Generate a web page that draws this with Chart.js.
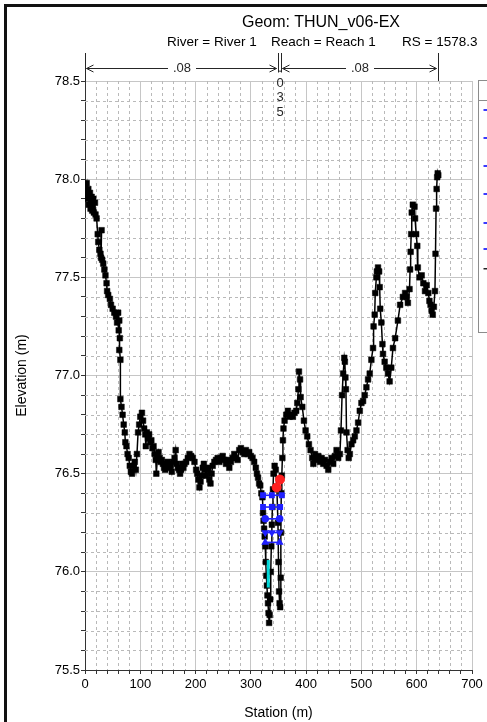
<!DOCTYPE html>
<html>
<head>
<meta charset="utf-8">
<script src="https://cdn.jsdelivr.net/npm/chart.js@4.4.1/dist/chart.umd.min.js"></script>
<style>
  html, body { margin: 0; padding: 0; background: #fff; }
  #wrap { position: relative; width: 487px; height: 722px; overflow: hidden; font-family: "Liberation Sans", Arial, sans-serif; color: #000; }
  #frame { position: absolute; left: 4px; top: 4px; width: 500px; height: 740px; border-left: 3px solid #111; border-top: 3px solid #111; }
  canvas { position: absolute; left: 0; top: 0; }
  .t { position: absolute; white-space: nowrap; line-height: 1; }
  #title { left: 242px; top: 14px; font-size: 16px; }
  .sub { top: 35px; font-size: 13.5px; }
</style>
</head>
<body>
<div id="wrap">
  <canvas id="c" width="487" height="722"></canvas>
  <div id="frame"></div>
  <div class="t" id="title">Geom: THUN_v06-EX</div>
  <div class="t sub" style="left:167px">River = River 1</div>
  <div class="t sub" style="left:271px">Reach = Reach 1</div>
  <div class="t sub" style="left:402px">RS = 1578.3</div>
</div>
<script>
// Ground profile of the cross section (station m, elevation m)
const groundStation = [
  0, 1, 3, 4, 6, 7, 9, 10, 12, 13, 15, 16, 18, 19, 21, 23, 24, 26, 28, 30,
  29, 31, 33, 35, 37, 39, 40, 42, 45, 47, 50, 53, 56, 58, 60, 61, 62, 63, 62, 64,
  64, 66, 68, 70, 72, 73, 75, 77, 79, 81, 83, 85, 88, 90, 92, 94, 96, 98, 100, 103,
  105, 107, 109, 110, 112, 114, 116, 118, 120, 122, 124, 126, 128, 129, 131, 133, 135, 137, 139, 141,
  143, 145, 147, 149, 151, 153, 155, 157, 159, 162, 164, 166, 168, 170, 172, 174, 176, 178, 180, 183,
  186, 189, 192, 195, 198, 201, 203, 205, 207, 209, 211, 213, 215, 217, 219, 221, 223, 225, 227, 229,
  231, 234, 237, 240, 243, 246, 249, 252, 255, 258, 261, 264, 267, 270, 273, 276, 279, 282, 285, 288,
  291, 294, 297, 300, 303, 306, 309, 311, 313, 315, 317, 319, 321, 322, 323, 324, 325, 326, 327, 328,
  329, 330, 331, 332, 333, 334, 335, 336, 337, 338, 339, 340, 341, 343, 345, 347, 349, 350, 351, 352,
  353, 354, 354.5, 355, 356, 357, 358, 359, 361, 364, 367, 370, 373, 376, 379, 382, 384, 386, 387, 389,
  390, 393, 396, 399, 402, 405, 408, 411, 413, 416, 419, 422, 425, 428, 431, 434, 437, 440, 443, 446,
  449, 452, 455, 458, 461, 463, 465, 467, 469, 470, 471, 472, 473, 475, 477, 479, 482, 485, 488, 491,
  494, 497, 500, 503, 506, 509, 512, 515, 518, 521, 522, 524, 525, 527, 528, 530, 532, 533, 534, 536,
  538, 539, 542, 545, 548, 551, 554, 557, 561, 566, 570, 575, 579, 582, 584, 587, 588, 589, 590, 591,
  593, 596, 597, 599, 601, 602, 605, 609, 612, 615, 618, 621, 623, 625, 627, 629, 631, 633, 634, 635,
  636, 637, 638, 639
];
const groundElev = [
  77.92, 77.96, 77.98, 77.90, 77.95, 77.87, 77.93, 77.85, 77.91, 77.84, 77.90, 77.83, 77.88, 77.82, 77.80, 77.72, 77.68, 77.64, 77.62, 77.74,
  77.60, 77.59, 77.57, 77.54, 77.51, 77.47, 77.43, 77.41, 77.39, 77.36, 77.34, 77.32, 77.30, 77.27, 77.32, 77.23, 77.28, 77.19, 77.13, 77.08,
  76.88, 76.84, 76.80, 76.75, 76.71, 76.66, 76.64, 76.60, 76.58, 76.54, 76.51, 76.50, 76.54, 76.56, 76.52, 76.60, 76.71, 76.75, 76.79, 76.81,
  76.77, 76.73, 76.70, 76.64, 76.71, 76.68, 76.70, 76.66, 76.67, 76.63, 76.64, 76.60, 76.57, 76.50, 76.58, 76.61, 76.58, 76.56, 76.57, 76.55,
  76.53, 76.52, 76.55, 76.56, 76.53, 76.55, 76.54, 76.51, 76.56, 76.58, 76.62, 76.55, 76.53, 76.52, 76.50, 76.52, 76.55, 76.53, 76.55, 76.56,
  76.58, 76.60, 76.59, 76.58, 76.56, 76.52, 76.50, 76.47, 76.43, 76.46, 76.49, 76.53, 76.55, 76.52, 76.49, 76.53, 76.52, 76.47, 76.45, 76.50,
  76.54, 76.56, 76.57, 76.58, 76.56, 76.58, 76.59, 76.57, 76.55, 76.57, 76.53, 76.56, 76.58, 76.60, 76.58, 76.57, 76.62, 76.63, 76.61, 76.60,
  76.62, 76.60, 76.61, 76.59, 76.58, 76.56, 76.53, 76.50, 76.48, 76.45, 76.44, 76.40, 76.38, 76.30, 76.26, 76.22, 76.18, 76.13, 76.05, 75.98,
  75.93, 75.88, 75.84, 75.79, 75.74, 75.78, 75.86, 76.00, 76.13, 76.24, 76.33, 76.42, 76.50, 76.54, 76.52, 76.43, 76.25, 76.05, 75.90, 75.84,
  75.82, 75.97, 76.20, 76.40, 76.49, 76.58, 76.67, 76.73, 76.77, 76.80, 76.82, 76.79, 76.80, 76.79, 76.81, 76.82, 76.86, 76.93, 77.02, 76.98,
  76.89, 76.84, 76.77, 76.72, 76.69, 76.65, 76.62, 76.58, 76.55, 76.60, 76.57, 76.59, 76.56, 76.58, 76.55, 76.57, 76.54, 76.52, 76.56, 76.58,
  76.55, 76.59, 76.62, 76.58, 76.60, 76.72, 76.90, 77.01, 77.09, 77.07, 76.99, 76.93, 76.71, 76.62, 76.58, 76.60, 76.65, 76.67, 76.69, 76.72,
  76.76, 76.82, 76.86, 76.87, 76.90, 76.94, 76.98, 77.01, 77.08, 77.14, 77.25, 77.31, 77.42, 77.50, 77.53, 77.55, 77.53, 77.45, 77.34, 77.27,
  77.16, 77.11, 77.07, 77.04, 77.01, 76.97, 77.04, 77.14, 77.19, 77.28, 77.36, 77.40, 77.42, 77.40, 77.37, 77.44, 77.54, 77.63, 77.72, 77.83,
  77.87, 77.86, 77.80, 77.72, 77.66, 77.55, 77.50, 77.51, 77.47, 77.43, 77.46, 77.42, 77.38, 77.36, 77.33, 77.31, 77.35, 77.43, 77.62, 77.85,
  77.95, 78.01, 78.03, 78.02
];

// Water surface levels in the main channel (elevation, and stations where each crosses the channel)
const wsElev = [76.39, 76.33, 76.27, 76.20, 76.15];
const wsStations = [
  [322, 338, 356],
  [322, 338, 353],
  [326, 352],
  [326, 338, 352],
  [326, 352]
];
const wsMarker = ['rect', 'rect', 'circle', 'triangle', 'triangle'];
const wsRotation = [0, 0, 0, 180, 0];

// Bank stations (red) and the short cyan segment near the channel bottom
const bankStation = [346.6, 352.7];
const bankElev = [76.43, 76.47];
const cyanStation = [331.5, 331.5];
const cyanElev = [75.92, 76.06];

// Manning's n zones across the section
const nBreaks = [0, 348.5, 354.5, 639];
const nLabels = ['.08', '.035', '.08'];

// Axis ticks
const xMin = 0, xMax = 700, xMajor = 100, xMinor = 20;
const yMin = 75.5, yMax = 78.5, yMajor = 0.5, yMinor = 0.1;

const datasets = [];
datasets.push({
  label: 'Bank Sta',
  data: bankStation.map((s, i) => ({ x: s, y: bankElev[i] })),
  showLine: false,
  pointStyle: 'circle',
  pointRadius: 4.5,
  pointBackgroundColor: '#ff2020',
  pointBorderColor: '#ff2020',
  order: 0
});
wsElev.forEach((e, k) => {
  datasets.push({
    label: 'WS ' + (k + 1),
    data: wsStations[k].map(s => ({ x: s, y: e })),
    borderColor: '#2020ff',
    borderWidth: 1.6,
    pointStyle: wsMarker[k],
    pointRotation: wsRotation[k],
    pointRadius: 3,
    pointBackgroundColor: '#2020ff',
    pointBorderColor: '#2020ff',
    order: 1
  });
});
datasets.push({
  label: 'Crit',
  data: cyanStation.map((s, i) => ({ x: s, y: cyanElev[i] })),
  borderColor: '#00d8d8',
  borderWidth: 3,
  pointRadius: 0,
  order: 2
});
datasets.push({
  label: 'Ground',
  data: groundStation.map((s, i) => ({ x: s, y: groundElev[i] })),
  borderColor: '#000',
  borderWidth: 1.5,
  pointStyle: 'rect',
  pointRadius: 4,
  pointBackgroundColor: '#000',
  pointBorderColor: '#000',
  pointBorderWidth: 0.5,
  order: 3
});

const isMult = (v, m) => Math.abs(v / m - Math.round(v / m)) < 1e-6;

// Dashed minor grid, n-value bands and the side legend frame
const decor = {
  id: 'decor',
  beforeDatasetsDraw(chart) {
    const { ctx, chartArea: a, scales: { x, y } } = chart;
    ctx.save();
    ctx.strokeStyle = '#b9b9b9';
    ctx.lineWidth = 1;
    ctx.setLineDash([3, 3]);
    for (let s = xMin + xMinor; s < xMax; s += xMinor) {
      if (isMult(s, xMajor)) continue;
      const px = Math.round(x.getPixelForValue(s)) + 0.5;
      ctx.beginPath(); ctx.moveTo(px, a.top); ctx.lineTo(px, a.bottom); ctx.stroke();
    }
    const n = Math.round((yMax - yMin) / yMinor);
    for (let k = 1; k < n; k++) {
      const v = yMin + k * yMinor;
      if (isMult(v, yMajor)) continue;
      const py = Math.round(y.getPixelForValue(v)) + 0.5;
      ctx.beginPath(); ctx.moveTo(a.left, py); ctx.lineTo(a.right, py); ctx.stroke();
    }
    ctx.restore();
  },
  afterDraw(chart) {
    const { ctx, chartArea: a, scales: { x } } = chart;
    ctx.save();
    ctx.strokeStyle = '#262626';
    ctx.fillStyle = '#262626';
    ctx.lineWidth = 1;
    ctx.font = '13px "Liberation Sans", Arial, sans-serif';
    ctx.textAlign = 'center';
    ctx.textBaseline = 'middle';
    const topY = 53, ay = 68.5;
    const xs = nBreaks.map(s => Math.round(x.getPixelForValue(s)) + 0.5);
    const narrow = xs.slice(0, -1).map((v, i) => xs[i + 1] - v < 30);
    xs.forEach((px, i) => {
      const nearNarrow = (i > 0 && narrow[i - 1]) || (i < narrow.length && narrow[i]);
      ctx.beginPath(); ctx.moveTo(px, topY); ctx.lineTo(px, nearNarrow ? ay + 4 : a.top); ctx.stroke();
    });
    for (let i = 0; i < nLabels.length; i++) {
      const l = xs[i], r = xs[i + 1], mid = (l + r) / 2;
      if (narrow[i]) {
        nLabels[i].split('').forEach((c, j) => ctx.fillText(c, mid, ay + j * 14.5));
        continue;
      }
      const L = l + 1, R = r - 2;
      ctx.beginPath();
      ctx.moveTo(L, ay); ctx.lineTo(mid - 14, ay);
      ctx.moveTo(mid + 14, ay); ctx.lineTo(R, ay);
      ctx.moveTo(L + 7, ay - 3.5); ctx.lineTo(L, ay); ctx.lineTo(L + 7, ay + 3.5);
      ctx.moveTo(R - 7, ay - 3.5); ctx.lineTo(R, ay); ctx.lineTo(R - 7, ay + 3.5);
      ctx.stroke();
      ctx.fillText(nLabels[i], mid, ay);
    }
    // side legend frame (mostly outside the window)
    const lx = Math.round(a.right) + 6.5;
    ctx.strokeStyle = '#8c8c8c';
    ctx.strokeRect(lx, Math.round(a.top) - 0.5, 40, 252);
    ctx.beginPath(); ctx.moveTo(lx, Math.round(a.top) + 19.5); ctx.lineTo(lx + 40, Math.round(a.top) + 19.5); ctx.stroke();
    ctx.fillStyle = '#3a3aff';
    [28, 56, 84, 112, 141, 167].forEach(d => ctx.fillRect(lx + 5, Math.round(a.top) + d, 4, 2));
    ctx.fillStyle = '#222';
    ctx.fillRect(lx + 5, Math.round(a.top) + 187, 4, 1.5);
    ctx.restore();
  }
};

new Chart(document.getElementById('c'), {
  type: 'line',
  data: { datasets },
  plugins: [decor],
  options: {
    responsive: false,
    animation: false,
    devicePixelRatio: 1,
    layout: { padding: { top: 81, right: 15, bottom: 0, left: 0 } },
    plugins: { legend: { display: false }, tooltip: { enabled: false }, title: { display: false } },
    scales: {
      x: {
        type: 'linear', min: xMin, max: xMax,
        afterFit(s) { s.height = 52; },
        ticks: {
          stepSize: xMinor, autoSkip: false, maxRotation: 0, padding: 3,
          color: '#000', font: { size: 13, family: '"Liberation Sans", Arial, sans-serif' },
          callback: v => isMult(v, xMajor) ? String(Math.round(v)) : ''
        },
        grid: {
          color: c => isMult(c.tick.value, xMajor) ? '#c6c6c6' : 'rgba(0,0,0,0)',
          tickColor: '#333', tickLength: 4, lineWidth: 1
        },
        border: { color: '#333', width: 1 },
        title: {
          display: true, text: 'Station (m)', color: '#000',
          font: { size: 14, family: '"Liberation Sans", Arial, sans-serif' },
          padding: { top: 0, bottom: 0 }
        }
      },
      y: {
        type: 'linear', min: yMin, max: yMax,
        afterFit(s) { s.width = 85; },
        ticks: {
          stepSize: yMinor, autoSkip: false, padding: 1,
          color: '#000', font: { size: 13, family: '"Liberation Sans", Arial, sans-serif' },
          callback: v => isMult(v, yMajor) ? v.toFixed(1) : ''
        },
        grid: {
          color: c => isMult(c.tick.value, yMajor) ? '#c6c6c6' : 'rgba(0,0,0,0)',
          tickColor: '#333', tickLength: 4, lineWidth: 1
        },
        border: { color: '#333', width: 1 },
        title: {
          display: true, text: 'Elevation (m)', color: '#000',
          font: { size: 14, family: '"Liberation Sans", Arial, sans-serif' },
          padding: { top: 14, bottom: 0 }
        }
      }
    }
  }
});
</script>
</body>
</html>
